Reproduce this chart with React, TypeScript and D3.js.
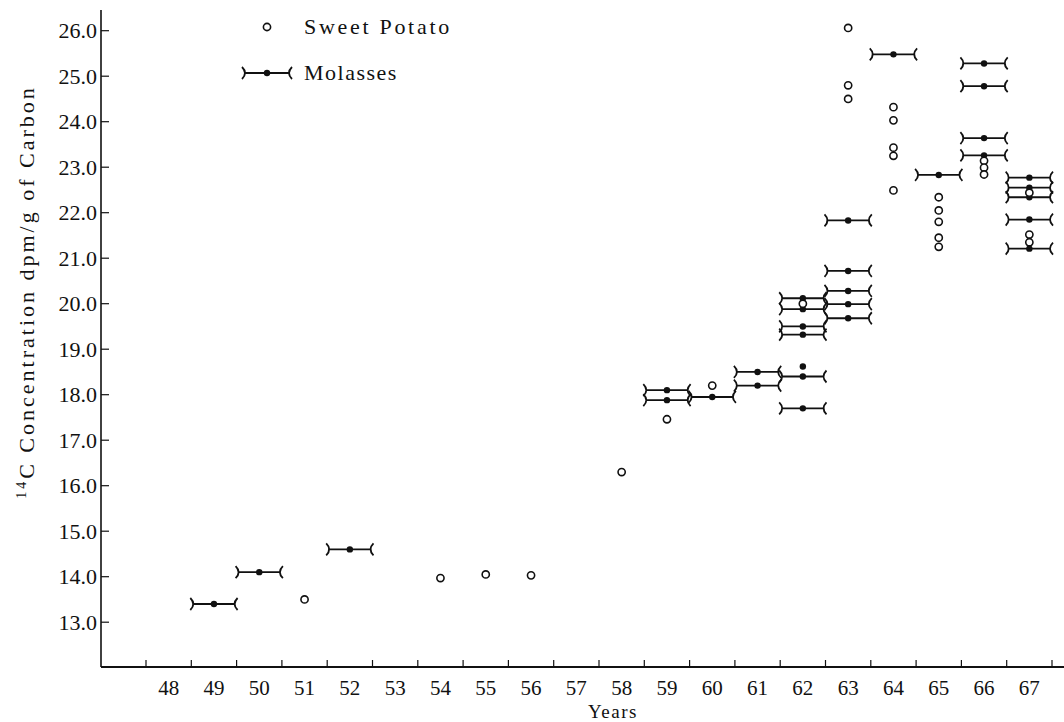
import React from 'react';
import * as d3 from 'd3';

const width = 1064, height = 722;

// year ticks and labels
const yearLabels = [48, 49, 50, 51, 52, 53, 54, 55, 56, 57, 58, 59, 60, 61, 62, 63, 64, 65, 66, 67];
const yTicks = [13, 14, 15, 16, 17, 18, 19, 20, 21, 22, 23, 24, 25, 26];

// molasses samples (one year bar each)
const molassesYears = [49, 50, 52, 59, 59, 60, 61, 61, 62, 62, 62, 62, 62, 62, 63, 63, 63, 63, 63, 64, 65, 66, 66, 66, 66, 67, 67, 67, 67, 67];
const molassesValues = [13.4, 14.1, 14.6, 18.1, 17.88, 17.95, 18.5, 18.2, 20.12, 19.88, 19.5, 19.32, 18.4, 17.7, 21.83, 20.72, 20.28, 19.99, 19.68, 25.48, 22.83, 25.28, 24.78, 23.64, 23.26, 22.77, 22.55, 22.34, 21.85, 21.21];

// single filled point without bar
const dotYears = [62];
const dotValues = [18.62];

// sweet potato samples
const potatoYears = [51, 54, 55, 56, 58, 59, 60, 62, 63, 63, 63, 64, 64, 64, 64, 64, 65, 65, 65, 65, 65, 66, 66, 66, 67, 67, 67];
const potatoValues = [13.5, 13.97, 14.05, 14.03, 16.3, 17.46, 18.2, 20.0, 26.06, 24.8, 24.5, 24.32, 24.03, 23.43, 23.25, 22.49, 22.34, 22.05, 21.8, 21.45, 21.25, 23.14, 22.99, 22.84, 22.44, 21.52, 21.35];

const font = "'Liberation Serif', 'DejaVu Serif', serif";

const x = d3.scaleLinear().domain([47.5, 67.5]).range([146, 1052]);
const y = d3.scaleLinear().domain([13, 26]).range([622.2, 30.7]);

const axisX = 101, axisY = 667;

// bracket ends ")" on the left, "(" on the right
function bar(cx: number, cy: number, half: number) {
    const x0 = cx - half, x1 = cx + half;
    return `M${x0},${cy}H${x1}` +
        `M${x0 - 3},${cy - 6}Q${x0 + 3},${cy} ${x0 - 3},${cy + 6}` +
        `M${x1 + 3},${cy - 6}Q${x1 - 3},${cy} ${x1 + 3},${cy + 6}`;
}

const txt = { fontFamily: font, fill: '#111' };

export default function App() {
    const half = (x(1) - x(0)) / 2 - 2;
    return (
        <svg width={width} height={height} viewBox={`0 0 ${width} ${height}`}
            style={{ position: 'absolute', left: 0, top: 0, background: '#fff', fontFamily: font }}>
            {/* axes */}
            <line x1={axisX} x2={axisX} y1={10} y2={axisY} stroke="#111" strokeWidth={1.6} />
            <line x1={axisX} x2={width} y1={axisY} y2={axisY} stroke="#111" strokeWidth={1.8} />
            {yTicks.map(t => (
                <g key={t}>
                    <line x1={axisX} x2={axisX + 8} y1={y(t)} y2={y(t)} stroke="#111" strokeWidth={1.2} />
                    <text x={axisX - 4} y={y(t) + 7.5} textAnchor="end" fontSize={22} style={txt}>
                        {d3.format('.1f')(t)}
                    </text>
                </g>
            ))}
            {d3.range(47.5, 68, 1).map(t => (
                <line key={t} x1={x(t)} x2={x(t)} y1={axisY} y2={axisY - 7} stroke="#111" strokeWidth={1.2} />
            ))}
            {yearLabels.map(t => (
                <text key={t} x={x(t)} y={axisY + 28} textAnchor="middle" fontSize={21} style={txt}>{t}</text>
            ))}
            <text x={613} y={718} textAnchor="middle" fontSize={19} letterSpacing={1.5} style={txt}>Years</text>
            <text transform={`translate(34,${292}) rotate(-90)`} textAnchor="middle" fontSize={22} letterSpacing={3} style={txt}>
                <tspan fontSize={14} dy={-8}>14</tspan>
                <tspan dy={8}>C Concentration dpm/g of Carbon</tspan>
            </text>

            {/* molasses bars */}
            {molassesValues.map((v, i) => (
                <g key={'m' + i}>
                    <path d={bar(x(molassesYears[i]), y(v), half)} fill="none" stroke="#111" strokeWidth={1.8} />
                    <circle cx={x(molassesYears[i])} cy={y(v)} r={3.2} fill="#111" />
                </g>
            ))}
            {dotValues.map((v, i) => (
                <circle key={'d' + i} cx={x(dotYears[i])} cy={y(v)} r={3.2} fill="#111" />
            ))}
            {/* sweet potato */}
            {potatoValues.map((v, i) => (
                <circle key={'p' + i} cx={x(potatoYears[i])} cy={y(v)} r={3.6} fill="#fff" stroke="#111" strokeWidth={1.6} />
            ))}

            {/* legend */}
            <circle cx={267} cy={27} r={3.6} fill="#fff" stroke="#111" strokeWidth={1.6} />
            <text x={304} y={34} fontSize={22} letterSpacing={2.7} style={txt}>Sweet Potato</text>
            <path d={bar(267, 73, 22)} fill="none" stroke="#111" strokeWidth={1.8} />
            <circle cx={267} cy={73} r={3.2} fill="#111" />
            <text x={304} y={80} fontSize={22} letterSpacing={1.5} style={txt}>Molasses</text>
        </svg>
    );
}
